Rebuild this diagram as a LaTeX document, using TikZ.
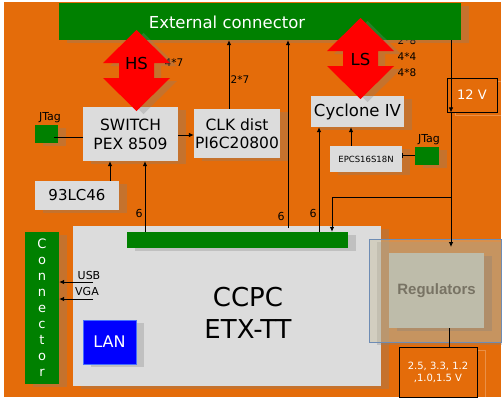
\documentclass[tikz,border=0pt]{standalone}
\usepackage{fontspec}
\setmainfont{DejaVu Sans}
\newfontfamily\regfont{Liberation Sans}
\usetikzlibrary{shadows,arrows.meta}
\definecolor{bgorange}{RGB}{228,108,10}
\definecolor{boxgray}{RGB}{220,220,220}
\definecolor{cgreen}{RGB}{0,128,0}
\definecolor{regouter}{RGB}{200,190,160}
\definecolor{reginner}{RGB}{190,188,170}
\definecolor{regtext}{RGB}{120,115,100}
\definecolor{regborder}{RGB}{110,140,180}
\definecolor{lanblue}{RGB}{0,0,255}
\definecolor{lanborder}{RGB}{70,110,255}
\tikzset{
 shad/.style={drop shadow={shadow xshift=8pt,shadow yshift=-3pt,fill=black!50,opacity=0.3}},
 graybox/.style={rectangle,fill=boxgray,inner sep=0pt,align=center,shad,font=\fontsize{15.5}{19}\selectfont},
 greenbox/.style={rectangle,fill=cgreen,inner sep=0pt,shad},
 lbl/.style={font=\fontsize{10.5}{12}\selectfont,inner sep=0pt},
 conn/.style={draw=black,line width=0.8pt,-{Latex[length=5pt,width=4.5pt]}},
 plainline/.style={draw=black,line width=0.8pt},
 bigarrow/.style={fill=red},
 arrowshadow/.style={fill=black!50,opacity=0.3},
 outlinebox/.style={rectangle,draw=black,line width=0.9pt,fill=bgorange,text=white,inner sep=0pt,align=center},
 ghost/.style={draw=white,opacity=0.25,line width=0.6pt},
}
\begin{document}
\begin{tikzpicture}[x=1pt,y=-1pt]
\useasboundingbox (0,0) rectangle (502,400);
\fill[white] (0,0) rectangle (502,400);
\fill[bgorange] (4,2) rectangle (501,397);
% labels lying under other shapes
\node[lbl] (l28) at (407,41) {2*8};
\node[lbl] (l44) at (407,57) {4*4};
\node[lbl] (l48) at (407,73) {4*8};
\node[lbl] (l47) at (174,63) {4*7};
\node[lbl] (l27) at (240,80) {2*7};
% external connector
\node[greenbox,minimum width=402pt,minimum height=37pt] (ext) at (260,21.5) {};
\node[font=\fontsize{16.5}{18}\selectfont,text=white,inner sep=0pt] (extt) at (227,22) {External connector};
% boxes
\node[graybox,minimum width=95pt,minimum height=54pt] (sw) at (130.5,134) {SWITCH\\PEX 8509};
\node[graybox,minimum width=86pt,minimum height=49pt,font=\fontsize{15.5}{18.5}\selectfont] (clk) at (237,133.5) {CLK dist\\PI6C20800};
\node[greenbox,minimum width=23pt,minimum height=18pt] (jt1) at (46.5,134) {};
\node[lbl,font=\fontsize{11}{12}\selectfont] (jt1l) at (50,117.5) {JTag};
\node[graybox,minimum width=84pt,minimum height=29pt,font=\fontsize{15}{18}\selectfont] (eep) at (77,195.5) {93LC46};
\node[graybox,minimum width=93pt,minimum height=31pt,font=\fontsize{16.5}{18}\selectfont] (cyc) at (357.5,111.5) {Cyclone IV};
\node[graybox,minimum width=72pt,minimum height=26pt,font=\fontsize{8.5}{10}\selectfont] (epcs) at (366,159) {EPCS16S18N};
\node[greenbox,minimum width=24pt,minimum height=18pt] (jt2) at (427,156) {};
\node[lbl,font=\fontsize{11}{12}\selectfont] (jt2l) at (429,139.5) {JTag};
% 12 V
\draw[ghost] (455,81) rectangle (505,115);
\node[outlinebox,minimum width=50pt,minimum height=34pt,font=\fontsize{13}{15}\selectfont] (v12) at (472,95) {12 V};
% CCPC
\node[graybox,minimum width=308pt,minimum height=160pt,font=\fontsize{26}{31.5}\selectfont] (ccpc) at (227,306) {};
\node[font=\fontsize{26}{31.5}\selectfont,align=center,inner sep=0pt] (ccpct) at (248,313) {CCPC\\ETX-TT};
\node[greenbox,minimum width=221pt,minimum height=16pt] (bar) at (237.5,240) {};
\node[rectangle,fill=lanblue,draw=lanborder,line width=0.8pt,inner sep=0pt,shad,minimum width=53pt,minimum height=44pt,text=white,font=\fontsize{16}{18}\selectfont] (lan) at (109.5,342) {LAN};
% side connector
\node[greenbox,minimum width=34pt,minimum height=152pt,text=white,align=center,font=\fontsize{13}{16}\selectfont] (sc) at (42,308) {C\\o\\n\\n\\e\\c\\t\\o\\r};
\node[lbl,font=\fontsize{11}{12}\selectfont] (usbl) at (89,275) {USB};
\node[lbl,font=\fontsize{11}{12}\selectfont] (vgal) at (87,291) {VGA};
\coordinate (usbs) at (93,282);
\coordinate (vgas) at (93,299);
% regulators
\node[rectangle,fill=black!50,opacity=0.3,minimum width=132pt,minimum height=103pt,inner sep=0pt] (regsh) at (443,293.5) {};
\node[rectangle,fill=regouter,fill opacity=0.45,draw=regborder,line width=0.8pt,minimum width=132pt,minimum height=103pt,inner sep=0pt] (regout) at (435,290.5) {};
\node[rectangle,fill=reginner,shad,minimum width=95pt,minimum height=75pt,inner sep=0pt,text=regtext,font=\regfont\bfseries\fontsize{15}{17}\selectfont] (reg) at (436.5,290.5) {Regulators};
% voltages
\draw[ghost] (407,350) rectangle (485,400);
\node[outlinebox,minimum width=78pt,minimum height=50pt,font=\fontsize{10}{12}\selectfont] (volt) at (438,372) {2.5, 3.3, 1.2\\,1.0,1.5 V};
% HS / LS double arrows
\fill[arrowshadow,shift={(7,3)}] (136.5,30) -- (170,63) -- (154,63) -- (154,78) -- (170,78) -- (136.5,111) -- (103,78) -- (119,78) -- (119,63) -- (103,63) -- cycle;
\fill[bigarrow] (136.5,30) -- (170,63) -- (154,63) -- (154,78) -- (170,78) -- (136.5,111) -- (103,78) -- (119,78) -- (119,63) -- (103,63) -- cycle;
\node[font=\fontsize{16.5}{18}\selectfont,inner sep=0pt] (hs) at (136.5,63.5) {HS};
\fill[arrowshadow,shift={(7,3)}] (360.5,18) -- (394,51) -- (378,51) -- (378,66) -- (394,66) -- (360.5,99) -- (327,66) -- (343,66) -- (343,51) -- (327,51) -- cycle;
\fill[bigarrow] (360.5,18) -- (394,51) -- (378,51) -- (378,66) -- (394,66) -- (360.5,99) -- (327,66) -- (343,66) -- (343,51) -- (327,51) -- cycle;
\node[font=\fontsize{16.5}{18}\selectfont,inner sep=0pt] (ls) at (360.5,59) {LS};
% connectors
\draw[conn] (sw.east |- 0,135) -- (clk.west |- 0,135);
\draw[conn] (clk.north -| 229,0) -- (ext.south -| 229,0);
\draw[plainline] ([xshift=-4pt]jt1.east |- 0,137) -- (sw.west |- 0,137);
\draw[conn] (eep.north -| 110,0) -- (sw.south -| 110,0);
\draw[conn] (bar.north -| 145,0) -- (sw.south -| 145,0);
\node[lbl,font=\fontsize{11}{12}\selectfont] (n6a) at (139,213) {6};
\draw[conn] (288,228) -- (ext.south -| 288,0);
\node[lbl,font=\fontsize{11}{12}\selectfont] (n6b) at (281,216) {6};
\draw[conn] (bar.north -| 319,0) -- (cyc.south -| 319,0);
\node[lbl,font=\fontsize{11}{12}\selectfont] (n6c) at (313,213) {6};
\draw[conn] (epcs.north -| 351,0) -- (cyc.south -| 351,0);
\draw[draw=black,line width=0.8pt,-{Bar[width=5pt]}] (jt2.west |- 0,155) -- (epcs.east |- 0,155);
\draw[conn] (ext.south -| 451,0) -- (v12.south -| 451,0 |- v12.north);
\coordinate (regin) at (451,247);
\draw[conn] (v12.south -| 451,0) -- (regin);
\coordinate (junc) at (451,197);
\draw[conn] (junc) -- (332,197) -- (bar.north -| 332,0);
\draw[plainline] (reg.south -| 449,0) -- (volt.north -| 449,0);
\draw[conn] (usbs) -- (sc.east |- usbs);
\draw[conn] (vgas) -- (sc.east |- vgas);
\end{tikzpicture}
\end{document}
